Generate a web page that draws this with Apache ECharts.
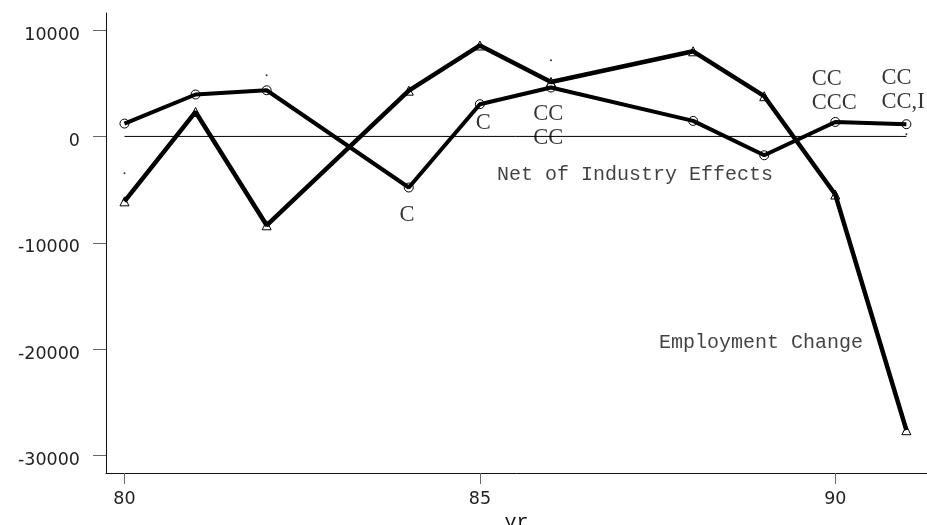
<!DOCTYPE html>
<html>
<head>
<meta charset="utf-8">
<script src="https://cdn.jsdelivr.net/npm/echarts@6/dist/echarts.min.js"></script>
<style>html,body{margin:0;padding:0;background:#fff}#c{width:927px;height:525px}</style>
</head>
<body>
<div id="c"></div>
<script>
// ---- data ----
const years = [80, 81, 82, 84, 85, 86, 88, 89, 90, 91];
const employmentChange = [-6100, 2300, -8350, 4300, 8550, 5120, 8000, 3780, -5460, -27610];
const netOfIndustry = [1210, 3940, 4340, -4800, 3030, 4600, 1460, -1770, 1360, 1150];
const dotYears = [80, 82, 86, 91];
const dotValues = [-3460, 5750, 7160, 200];
const zeroLineYears = [80, 91];
const xTicks = [80, 85, 90];
const yTicks = [-30000, -20000, -10000, 0, 10000];
const xName = 'yr';
// point annotations (year, value at label centre, text)
const annoYears = [83.87, 84.94, 85.75, 89.67, 90.65];
const annoValues = [-7360, 1290, 960, 4250, 4340];
const annoTexts = ['C', 'C', 'CC\nCC', 'CC\nCCC', 'CC\nCC,I'];
// series name labels
const seriesLabelYears = [85.24, 87.52];
const seriesLabelValues = [-3550, -19430];
const seriesLabelTexts = ['Net of Industry Effects', 'Employment Change'];

const pair = (xs, ys) => xs.map((x, i) => [x, ys[i]]);

const chart = echarts.init(document.getElementById('c'), null, {renderer: 'canvas'});
chart.setOption({
  animation: false,
  backgroundColor: '#fff',
  grid: {left: 106, right: 0, top: 13, bottom: 52, containLabel: false, outerBoundsMode: 'none'},
  xAxis: {
    type: 'value', min: 79.74, max: 91.29,
    name: xName, nameLocation: 'middle', nameGap: 32,
    nameTextStyle: {fontFamily: 'Liberation Mono', fontSize: 20, color: '#111'},
    axisLine: {show: true, onZero: false, lineStyle: {color: '#111', width: 1}},
    axisTick: {show: true, length: 11, customValues: xTicks, lineStyle: {color: '#666'}},
    axisLabel: {customValues: xTicks, margin: 17, fontFamily: 'DejaVu Sans', fontSize: 17.5, color: '#222',
      formatter: v => String(v)},
    splitLine: {show: false}
  },
  yAxis: {
    type: 'value', min: -31630, max: 11600,
    axisLine: {show: true, onZero: false, lineStyle: {color: '#111', width: 1}},
    axisTick: {show: true, length: 13, customValues: yTicks, lineStyle: {color: '#666'}},
    axisLabel: {customValues: yTicks, margin: 26, fontFamily: 'DejaVu Sans', fontSize: 17.5, color: '#222',
      verticalAlign: 'top', lineHeight: 10, formatter: v => String(v)},
    splitLine: {show: false}
  },
  series: [
    {
      type: 'line', data: pair(zeroLineYears, [0, 0]), symbol: 'none', silent: true, z: 1,
      lineStyle: {color: '#000', width: 1}
    },
    {
      name: 'Employment Change', type: 'line', data: pair(years, employmentChange), z: 3,
      symbol: 'triangle', symbolSize: 9, showAllSymbol: true,
      lineStyle: {color: '#000', width: 4.5},
      itemStyle: {color: 'rgba(255,255,255,0)', borderColor: '#000', borderWidth: 1}
    },
    {
      name: 'Net of Industry Effects', type: 'line', data: pair(years, netOfIndustry), z: 2,
      symbol: 'circle', symbolSize: 9, showAllSymbol: true,
      lineStyle: {color: '#000', width: 4},
      itemStyle: {color: 'rgba(255,255,255,0)', borderColor: '#000', borderWidth: 1}
    },
    {
      type: 'scatter', data: pair(dotYears, dotValues), symbolSize: 2, silent: true,
      itemStyle: {color: '#000'}
    },
    {
      type: 'scatter', data: pair(annoYears, annoValues).map((d, i) => ({value: d, label: {formatter: annoTexts[i]}})),
      symbolSize: 0, silent: true, z: 5,
      label: {show: true, position: 'inside', align: 'left', verticalAlign: 'middle',
        fontFamily: 'Liberation Serif', fontSize: 22.5, lineHeight: 24, color: '#000'}
    },
    {
      type: 'scatter', data: pair(seriesLabelYears, seriesLabelValues).map((d, i) => ({value: d, label: {formatter: seriesLabelTexts[i]}})),
      symbolSize: 0, silent: true, z: 5,
      label: {show: true, position: 'inside', align: 'left', verticalAlign: 'middle',
        fontFamily: 'Liberation Mono', fontSize: 20, color: '#111'}
    }
  ]
});
</script>
</body>
</html>
